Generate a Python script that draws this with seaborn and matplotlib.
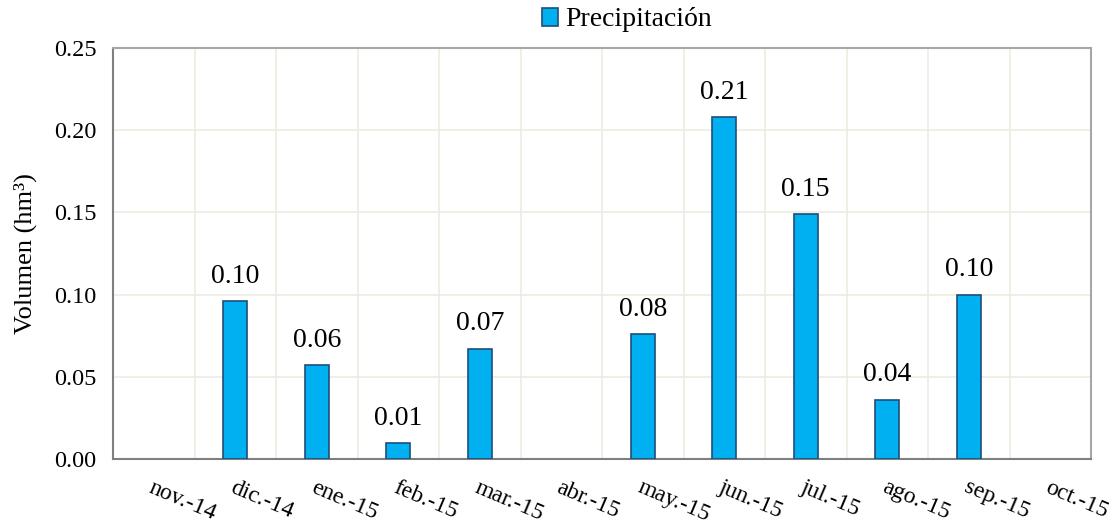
import numpy as np
import pandas as pd
import matplotlib
matplotlib.use("Agg")
import matplotlib.pyplot as plt
import seaborn as sns

# monthly volume (hm3)
meses = ["nov.-14", "dic.-14", "ene.-15", "feb.-15", "mar.-15", "abr.-15",
         "may.-15", "jun.-15", "jul.-15", "ago.-15", "sep.-15", "oct.-15"]
precipitacion = [0.0, 0.096, 0.057, 0.0095, 0.067, 0.0, 0.076, 0.208, 0.149, 0.036, 0.100, 0.0]
y_ticks = [0.00, 0.05, 0.10, 0.15, 0.20, 0.25]

df = pd.DataFrame({"mes": meses, "vol": precipitacion})

sns.set_style("white")
plt.rcParams["font.family"] = ["Liberation Serif", "DejaVu Serif"]
plt.rcParams["text.color"] = "black"
plt.rcParams["axes.labelcolor"] = "black"
plt.rcParams["xtick.labelcolor"] = "black"
plt.rcParams["ytick.labelcolor"] = "black"

fig = plt.figure(figsize=(11.17, 5.25), dpi=100)
ax = fig.add_axes([113 / 1117, 1 - 459 / 525, (1091 - 113) / 1117, (459 - 48) / 525])

sns.barplot(data=df, x="mes", y="vol", order=meses, color="#00B0F0",
            saturation=1, width=0.29, edgecolor="#1F4E79", linewidth=1.2,
            ax=ax, zorder=3)

# empty months: no visible outline
for p, v in zip(ax.containers[0], precipitacion):
    if v == 0:
        p.set_edgecolor("none")

n = len(meses)
ax.set_xlim(-0.5, n - 0.5)
ax.set_ylim(0, 0.25)
ax.set_yticks(y_ticks)
ax.set_yticklabels([f"{t:.2f}" for t in y_ticks], fontsize=17.5)

# labels at category centres, tick marks/grid at category boundaries
ax.set_xticks(np.arange(n))
ax.set_xticklabels(meses, fontsize=17, rotation=-23, ha="left", va="top",
                   rotation_mode="anchor")
ax.set_xticks(np.arange(n + 1) - 0.5, minor=True)
ax.tick_params(axis="x", which="major", length=0, pad=13)
ax.tick_params(axis="x", which="minor", length=6, width=1.2, color="#7F7F7F", direction="out")
ax.tick_params(axis="y", length=6, width=1.2, color="#7F7F7F", direction="out", pad=6)
ax.grid(True, axis="x", which="minor", color="#EEECE1", linewidth=1.2, zorder=0)
ax.grid(True, axis="y", which="major", color="#EEECE1", linewidth=1.2, zorder=0)
ax.grid(False, axis="x", which="major")

for side in ["left", "bottom"]:
    ax.spines[side].set_color("#7F7F7F")
    ax.spines[side].set_linewidth(1.5)
for side in ["top", "right"]:
    ax.spines[side].set_visible(True)
    ax.spines[side].set_color("#A6A6A6")
    ax.spines[side].set_linewidth(1.5)

etiquetas = ["" if v == 0 else f"{v:.2f}" for v in precipitacion]
ax.bar_label(ax.containers[0], labels=etiquetas, padding=9, fontsize=20, color="black")

ax.set_xlabel("")
ax.set_ylabel("Volumen (hm³)", fontsize=19, labelpad=12)

handle = plt.Rectangle((0, 0), 1, 1, facecolor="#00B0F0", edgecolor="#1F4E79", linewidth=1.2)
leg = ax.legend([handle], ["Precipitación"], loc="center",
                bbox_to_anchor=(627 / 1117, 1 - 20 / 525),
                bbox_transform=fig.transFigure, frameon=False, fontsize=20,
                handlelength=0.6, handleheight=0.6, handletextpad=0.25)

fig.savefig("out.png", dpi=100)
